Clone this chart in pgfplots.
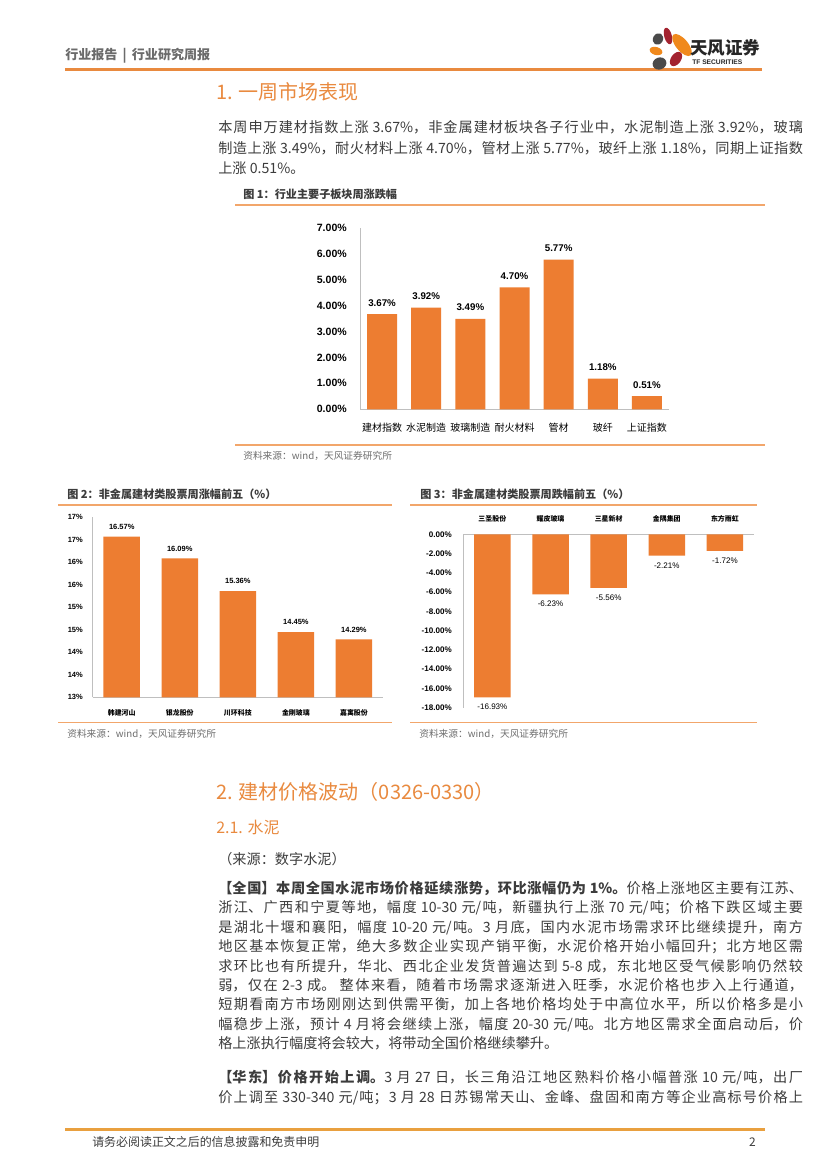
\documentclass[border=0pt]{standalone}
\usepackage{pgfplots}
\pgfplotsset{compat=1.18}
\usepackage{fontspec}
\setmainfont{Noto Sans CJK SC}
\newfontfamily\lat{Liberation Sans}
\XeTeXlinebreaklocale "zh"
\XeTeXlinebreakskip=0pt plus 1.5pt
\definecolor{bar}{HTML}{ED7D31}
\definecolor{hd}{HTML}{E98A3F}
\definecolor{ln}{HTML}{F2A66B}
\definecolor{txt}{HTML}{3C3C3C}
\definecolor{ax}{HTML}{BFBFBF}
\definecolor{src}{HTML}{6F6F6F}
\definecolor{lred}{HTML}{A3232F}
\definecolor{lorg}{HTML}{F0891C}
\definecolor{lgry}{HTML}{4A4A4A}
\definecolor{foot}{HTML}{E9A03F}
\newcommand\bodyf{\fontsize{10.2bp}{14bp}\selectfont}
\newcommand\JL[2]{\node[anchor=base west,inner sep=0pt,text width=421bp,align=justify,text=txt,font=\bodyf] at (218,#1) {\parfillskip=0pt\relax #2\par};}
\newcommand\LL[2]{\node[anchor=base west,inner sep=0pt,text=txt,font=\bodyf] at (218,#1) {#2};}
\pgfplotstableread{
x y
0 3.67
1 3.92
2 3.49
3 4.70
4 5.77
5 1.18
6 0.51
}\tabA
\pgfplotstableread{
x y
0 16.57
1 16.09
2 15.36
3 14.45
4 14.29
}\tabB
\pgfplotstableread{
x y
0 -16.93
1 -6.23
2 -5.56
3 -2.21
4 -1.72
}\tabC
\begin{document}
\begin{tikzpicture}[x=0.72bp,y=-0.72bp]
\fill[white] (0,0) rectangle (827,1169);
% header
\node[anchor=west,inner sep=0pt,text=black!58,font=\fontsize{9.4bp}{10bp}\selectfont\bfseries] at (65,56) {行业报告 \,|\, 行业研究周报};
\draw[hd,line width=1.5bp] (65,69.5) -- (762,69.5);
% logo
\fill[lred] (668,36) ellipse [x radius=3.8, y radius=8.5, rotate=15];
\fill[lorg] (682,45) ellipse [x radius=6, y radius=13.5, rotate=40];
\fill[lgry] (658,39) ellipse [x radius=5, y radius=6, rotate=-30];
\fill[lorg] (656,51) ellipse [x radius=6.5, y radius=4, rotate=-15];
\fill[lred] (676,59) ellipse [x radius=5, y radius=8, rotate=-35];
\fill[lgry] (659.5,63.5) ellipse [x radius=7, y radius=6, rotate=20];
\node[anchor=west,inner sep=0pt,text=black!85,font=\fontsize{12.6bp}{13bp}\selectfont\bfseries] at (690,48) {天风证券};
\node[anchor=west,inner sep=0pt,text=black!85,font=\lat\bfseries\fontsize{4.8bp}{5bp}\selectfont] at (692,62.5) {TF SECURITIES};
% heading 1
\node[anchor=west,inner sep=0pt,text=hd,font=\fontsize{14.4bp}{16bp}\selectfont] at (216,92) {1. 一周市场表现};
\JL{132.4}{本周申万建材指数上涨 3.67\%，非金属建材板块各子行业中，水泥制造上涨 3.92\%，玻璃}
\JL{153.2}{制造上涨 3.49\%，耐火材料上涨 4.70\%，管材上涨 5.77\%，玻纤上涨 1.18\%，同期上证指数}
\LL{173.6}{上涨 0.51\%。}
% figure 1
\node[anchor=west,inner sep=0pt,text=txt,font=\fontsize{8bp}{9bp}\selectfont\bfseries] at (243,194) {图 1：行业主要子板块周涨跌幅};
\draw[ln,line width=0.8bp] (235,205) -- (765,205);
\draw[ln,line width=0.8bp] (235,445) -- (765,445);
\node[anchor=west,inner sep=0pt,text=src,font=\fontsize{7bp}{8bp}\selectfont] at (243,456) {资料来源：wind，天风证券研究所};
\begin{axis}[at={(360*0.72bp,-409.3*0.72bp)},anchor=south west,scale only axis,
  width=222.5bp,height=130.75bp,
  ybar,bar width=21.6bp,xmin=-0.5,xmax=6.5,ymin=0,ymax=7,
  xtick=data,xticklabels={建材指数,水泥制造,玻璃制造,耐火材料,管材,玻纤,上证指数},
  ytick={0,1,...,7},
  axis x line=bottom,axis y line=left,axis line style={draw=ax,-},
  major tick style={draw=none},
  /pgf/number format/assume math mode=true,
  yticklabel={\pgfmathprintnumber[fixed,fixed zerofill,precision=2]{\tick}\%},
  yticklabel style={anchor=east,inner sep=0pt,xshift=-7.2bp,font=\lat\bfseries\fontsize{7.6bp}{8bp}\selectfont},
  xticklabel style={anchor=center,inner sep=0pt,yshift=-11.3bp,font=\fontsize{7.2bp}{8bp}\selectfont},
  nodes near coords={\pgfmathprintnumber[fixed,fixed zerofill,precision=2]{\pgfplotspointmeta}\%},
  nodes near coords style={anchor=south,inner sep=0pt,yshift=5.4bp,font=\lat\bfseries\fontsize{7bp}{8bp}\selectfont},
]
\addplot[fill=bar,draw=none] table[x=x,y=y] {\tabA};
\end{axis}
% figure 2
\node[anchor=west,inner sep=0pt,text=txt,font=\fontsize{8bp}{9bp}\selectfont\bfseries] at (67,494) {图 2：非金属建材类股票周涨幅前五（\%）};
\draw[ln,line width=0.8bp] (58,505) -- (392,505);
\draw[ln,line width=0.8bp] (58,722.7) -- (392,722.7);
\node[anchor=west,inner sep=0pt,text=src,font=\fontsize{7bp}{8bp}\selectfont] at (67,734) {资料来源：wind，天风证券研究所};
\begin{axis}[at={(92.7*0.72bp,-697.3*0.72bp)},anchor=south west,scale only axis,
  width=209bp,height=129.6bp,
  ybar,bar width=26.3bp,xmin=-0.5,xmax=4.5,ymin=13,ymax=17,
  xtick=data,xticklabels={韩建河山,银龙股份,川环科技,金刚玻璃,嘉寓股份},
  ytick={13,13.5,...,17},
  yticklabels={13\%,14\%,14\%,15\%,15\%,16\%,16\%,17\%,17\%},
  axis x line=bottom,axis y line=left,axis line style={draw=ax,-},
  major tick style={draw=none},
  /pgf/number format/assume math mode=true,
  yticklabel style={anchor=east,inner sep=0pt,xshift=-4.8bp,font=\lat\bfseries\fontsize{5.4bp}{6bp}\selectfont},
  xticklabel style={anchor=center,inner sep=0pt,yshift=-9.1bp,font=\fontsize{5bp}{6bp}\selectfont\bfseries},
  nodes near coords={\pgfmathprintnumber[fixed,fixed zerofill,precision=2]{\pgfplotspointmeta}\%},
  nodes near coords style={anchor=south,inner sep=0pt,yshift=4.9bp,font=\lat\bfseries\fontsize{5.4bp}{6bp}\selectfont},
]
\addplot[fill=bar,draw=none] table[x=x,y=y] {\tabB};
\end{axis}
% figure 3
\node[anchor=west,inner sep=0pt,text=txt,font=\fontsize{8bp}{9bp}\selectfont\bfseries] at (420,494) {图 3：非金属建材类股票周跌幅前五（\%）};
\draw[ln,line width=0.8bp] (410,505) -- (757,505);
\draw[ln,line width=0.8bp] (410,722.7) -- (757,722.7);
\node[anchor=west,inner sep=0pt,text=src,font=\fontsize{7bp}{8bp}\selectfont] at (419,734) {资料来源：wind，天风证券研究所};
\begin{axis}[at={(463.3*0.72bp,-707.7*0.72bp)},anchor=south west,scale only axis,
  width=209.3bp,height=124.8bp,
  ybar,bar width=26.3bp,xmin=-0.5,xmax=4.5,ymin=-18,ymax=0,
  xtick=data,xticklabels={三圣股份,耀皮玻璃,三星新材,金隅集团,东方雨虹},
  ytick={-18,-16,...,0},
  axis x line=top,axis y line=left,axis line style={draw=ax,-},
  major tick style={draw=none},
  /pgf/number format/assume math mode=true,
  yticklabel={\pgfmathprintnumber[fixed,fixed zerofill,precision=2]{\tick}\%},
  yticklabel style={anchor=east,inner sep=0pt,xshift=-6bp,font=\lat\bfseries\fontsize{5.8bp}{6bp}\selectfont},
  xticklabel style={anchor=center,inner sep=0pt,yshift=9.1bp,font=\fontsize{5bp}{6bp}\selectfont\bfseries},
  nodes near coords={\pgfmathprintnumber[fixed,fixed zerofill,precision=2]{\pgfplotspointmeta}\%},
  nodes near coords style={anchor=north,inner sep=0pt,yshift=-4.7bp,font=\lat\fontsize{5.8bp}{6bp}\selectfont},
]
\addplot[fill=bar,draw=none] table[x=x,y=y] {\tabC};
\end{axis}
% section 2
\node[anchor=west,inner sep=0pt,text=hd,font=\fontsize{14.4bp}{16bp}\selectfont] at (216,792) {2. 建材价格波动（0326-0330）};
\node[anchor=west,inner sep=0pt,text=hd,font=\fontsize{11.5bp}{12bp}\selectfont] at (216,827) {2.1. 水泥};
\LL{864.6}{（来源：数字水泥）}
\JL{893.4}{{\bfseries 【全国】本周全国水泥市场价格延续涨势，环比涨幅仍为 1\%。}价格上涨地区主要有江苏、}
\JL{912.8}{浙江、广西和宁夏等地，幅度 10-30 元/吨，新疆执行上涨 70 元/吨；价格下跌区域主要}
\JL{932.2}{是湖北十堰和襄阳，幅度 10-20 元/吨。3 月底，国内水泥市场需求环比继续提升，南方}
\JL{951.6}{地区基本恢复正常，绝大多数企业实现产销平衡，水泥价格开始小幅回升；北方地区需}
\JL{971.0}{求环比也有所提升，华北、西北企业发货普遍达到 5-8 成，东北地区受气候影响仍然较}
\JL{990.4}{弱，仅在 2-3 成。 整体来看，随着市场需求逐渐进入旺季，水泥价格也步入上行通道，}
\JL{1009.8}{短期看南方市场刚刚达到供需平衡，加上各地价格均处于中高位水平，所以价格多是小}
\JL{1029.2}{幅稳步上涨，预计 4 月将会继续上涨，幅度 20-30 元/吨。北方地区需求全面启动后，价}
\LL{1048.6}{格上涨执行幅度将会较大，将带动全国价格继续攀升。}
\JL{1082.4}{{\bfseries 【华东】价格开始上调。}3 月 27 日，长三角沿江地区熟料价格小幅普涨 10 元/吨，出厂}
\JL{1102.2}{价上调至 330-340 元/吨；3 月 28 日苏锡常天山、金峰、盘固和南方等企业高标号价格上}
% footer
\draw[foot,line width=1.5bp] (65,1129.5) -- (765,1129.5);
\node[anchor=west,inner sep=0pt,text=txt,font=\fontsize{8.6bp}{9bp}\selectfont] at (92,1142) {请务必阅读正文之后的信息披露和免责申明};
\node[anchor=east,inner sep=0pt,text=txt,font=\fontsize{8.6bp}{9bp}\selectfont] at (756,1142) {2};
\pgfresetboundingbox
\useasboundingbox (0,0) rectangle (827,1169);
\end{tikzpicture}
\end{document}
